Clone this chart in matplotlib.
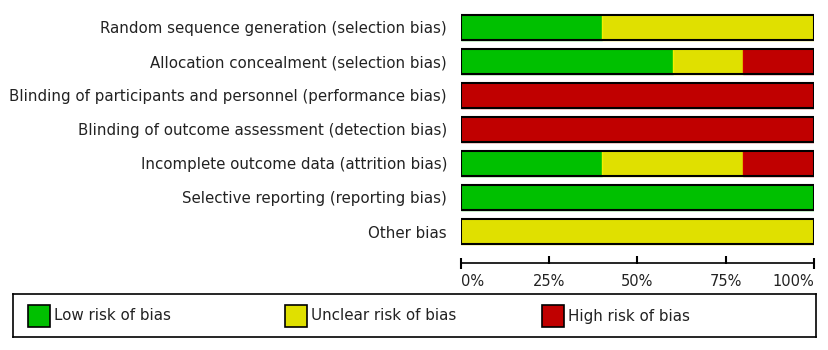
import matplotlib
matplotlib.use("Agg")
import matplotlib.pyplot as plt
from matplotlib.patches import Rectangle
import numpy as np

categories = [
    "Random sequence generation (selection bias)",
    "Allocation concealment (selection bias)",
    "Blinding of participants and personnel (performance bias)",
    "Blinding of outcome assessment (detection bias)",
    "Incomplete outcome data (attrition bias)",
    "Selective reporting (reporting bias)",
    "Other bias",
]
low = [40, 60, 0, 0, 40, 100, 0]
unclear = [60, 20, 0, 0, 40, 0, 100]
high = [0, 20, 100, 100, 20, 0, 0]
series_names = ["Low risk of bias", "Unclear risk of bias", "High risk of bias"]
colors = ["#00C000", "#E0E000", "#C00000"]
edge_colors = ["#00C800", "#F0F000", "#D00000"]
tick_vals = [0, 25, 50, 75, 100]
tick_labels = ["0%", "25%", "50%", "75%", "100%"]

W, H = 829, 350
fig = plt.figure(figsize=(W / 100, H / 100), dpi=100)
plt.rcParams['font.family'] = ['DejaVu Sans']

x0, x1 = 461, 814
top_px, bot_px = 10.5, 263
ax_h = bot_px - top_px
ax = fig.add_axes([x0 / W, 1 - bot_px / H, (x1 - x0) / W, ax_h / H])

y = np.arange(len(categories))
bh = 0.76
left = np.zeros(len(categories))
for vals, c, ec in zip([low, unclear, high], colors, edge_colors):
    v = np.array(vals, dtype=float)
    ax.barh(y, v, left=left, height=bh, color=c, edgecolor=ec, linewidth=1.0)
    left += v
ax.barh(y, left, height=bh, fill=False, edgecolor="black", linewidth=1.5)

ax.set_xlim(0, 100)
ax.set_ylim((bot_px - 27.5) / 34, -0.5)
ax.set_yticks(y)
ax.set_yticklabels(categories, fontsize=10.8, color="#222222")
ax.tick_params(axis="y", length=0, pad=10)

ax.set_xticks(tick_vals)
xt = ax.set_xticklabels(tick_labels, fontsize=10.5, color="#222222")
xt[0].set_ha("left")
xt[-1].set_ha("right")
ax.tick_params(axis="x", length=0, pad=8)

# tick marks: ends cross the axis line, middle ones rise above it
tr = ax.get_xaxis_transform()
ends = [tick_vals[0], tick_vals[-1]]
mids = tick_vals[1:-1]
ax.vlines(ends, -5.5 / ax_h, 5.5 / ax_h, transform=tr, colors="black",
          linewidth=1.5, clip_on=False, zorder=5)
ax.vlines(mids, -1 / ax_h, 7 / ax_h, transform=tr, colors="black",
          linewidth=1.5, clip_on=False, zorder=5)

for s in ["top", "left", "right"]:
    ax.spines[s].set_visible(False)
ax.spines["bottom"].set_linewidth(1.2)
ax.patch.set_alpha(0)

# legend box
lx0, lx1, ly0, ly1 = 13, 816, 294, 337
lax = fig.add_axes([lx0 / W, 1 - ly1 / H, (lx1 - lx0) / W, (ly1 - ly0) / H])
lax.set_xlim(lx0, lx1)
lax.set_ylim(ly1, ly0)
lax.set_xticks([])
lax.set_yticks([])
for s in lax.spines.values():
    s.set_linewidth(1.2)
sq_x = [28, 285, 542]
for sx, c, name in zip(sq_x, colors, series_names):
    lax.add_patch(Rectangle((sx, 305), 22, 22, facecolor=c, edgecolor="black", linewidth=1.2))
    lax.text(sx + 26, 316, name, va="center", ha="left", fontsize=10.9, color="#222222")

fig.savefig("out.png", dpi=100)
